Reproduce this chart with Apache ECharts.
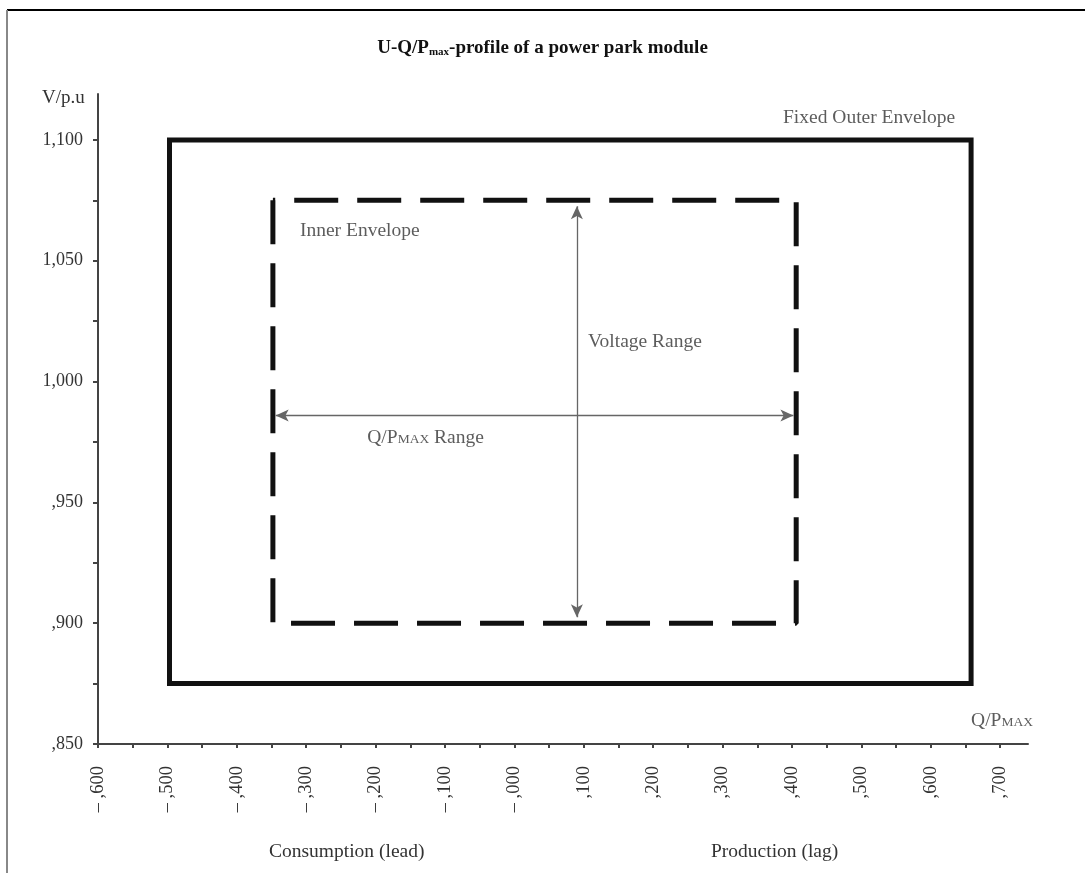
<!DOCTYPE html>
<html>
<head>
<meta charset="utf-8">
<script src="https://cdn.jsdelivr.net/npm/echarts@6/dist/echarts.min.js"></script>
<style>
html,body{margin:0;padding:0;background:#fff;}
#chart{width:1085px;height:873px;}
</style>
</head>
<body>
<div id="chart"></div>
<script>
// ---- data ----
var outerEnvelope = [[-0.497, 0.875], [-0.497, 1.1], [0.658, 1.1], [0.658, 0.875], [-0.497, 0.875]];
var innerEnvelope = [[-0.348, 1.075], [-0.348, 0.9], [0.406, 0.9], [0.406, 1.075], [-0.348, 1.075]];
var voltageArrow = [[0.09, 0.9025], [0.09, 1.0725]];
var qRangeArrow = [[-0.344, 0.986], [0.402, 0.986]];
var annotations = [
  {text: 'Fixed Outer Envelope', coord: [0.387, 1.109]},
  {text: 'Inner Envelope', coord: [-0.309, 1.0625]},
  {text: 'Voltage Range', coord: [0.106, 1.0165]},
  {text: '{n|Q/P}{s|MAX}{n| Range}', coord: [-0.212, 0.9765]},
  {text: '{n|Q/P}{s|MAX}', coord: [0.658, 0.8595]}
];
var xTickValues = [-0.6,-0.5,-0.4,-0.3,-0.2,-0.1,0,0.1,0.2,0.3,0.4,0.5,0.6,0.7];
var xTickLabels = ['– ,600','– ,500','– ,400','– ,300','– ,200','– ,100','– ,000',',100',',200',',300',',400',',500',',600',',700'];
var xMinorTicks = [-0.6,-0.55,-0.5,-0.45,-0.4,-0.35,-0.3,-0.25,-0.2,-0.15,-0.1,-0.05,0,0.05,0.1,0.15,0.2,0.25,0.3,0.35,0.4,0.45,0.5,0.55,0.6,0.65,0.7];
var yTickValues = [0.85, 0.9, 0.95, 1.0, 1.05, 1.1];
var yTickLabels = [',850', ',900', ',950', '1,000', '1,050', '1,100'];
var yMinorTicks = [0.85,0.875,0.9,0.925,0.95,0.975,1.0,1.025,1.05,1.075,1.1];

function lookup(vals, labels, v) {
  for (var i = 0; i < vals.length; i++) if (Math.abs(vals[i] - v) < 1e-6) return labels[i];
  return '';
}

var FONT = '"Liberation Serif", "DejaVu Serif", serif';
var TXT = '#333';
var chart = echarts.init(document.getElementById('chart'), null, {renderer: 'canvas'});
var option = {
  animation: false,
  backgroundColor: '#fff',
  textStyle: {fontFamily: FONT},
  title: {
    text: '{b|U-Q/P}{bs|max}{b|-profile of a power park module}',
    left: 'center', top: 31,
    textStyle: {
      rich: {
        b: {fontFamily: FONT, fontWeight: 'bold', fontSize: 19, color: '#111', lineHeight: 24},
        bs: {fontFamily: FONT, fontWeight: 'bold', fontSize: 11, color: '#111', lineHeight: 24, padding: [9, 0, 0, 0]}
      }
    }
  },
  grid: {left: 98, top: 94, width: 930, height: 650, containLabel: false},
  xAxis: {
    type: 'value', min: -0.6, max: 0.74, interval: 0.1,
    splitLine: {show: false},
    axisLine: {onZero: false, lineStyle: {color: '#444', width: 2}},
    axisTick: {show: true, length: 4, inside: false, lineStyle: {color: '#444', width: 2}, customValues: xMinorTicks},
    axisLabel: {
      customValues: xTickValues, rotate: 90, margin: 22,
      fontFamily: FONT, fontSize: 18.5, color: TXT,
      formatter: function (v) { return lookup(xTickValues, xTickLabels, v); }
    }
  },
  yAxis: {
    type: 'value', min: 0.85, max: 1.119, interval: 0.05,
    splitLine: {show: false},
    axisLine: {show: true, onZero: false, lineStyle: {color: '#444', width: 2}},
    axisTick: {show: true, length: 5, lineStyle: {color: '#444', width: 2}, customValues: yMinorTicks},
    axisLabel: {
      customValues: yTickValues, margin: 15,
      fontFamily: FONT, fontSize: 18, color: TXT,
      formatter: function (v) { return lookup(yTickValues, yTickLabels, v); }
    }
  },
  series: [
    {
      type: 'line', data: outerEnvelope, symbol: 'none', silent: true,
      lineStyle: {color: '#111', width: 5, join: 'miter', cap: 'square'}
    },
    {
      type: 'line', data: innerEnvelope, symbol: 'none', silent: true,
      lineStyle: {color: '#111', width: 5, type: [44, 19], cap: 'butt'}
    },
    {
      type: 'line', data: [], symbol: 'none', silent: true,
      markLine: {
        silent: true, symbol: ['arrow', 'arrow'], symbolSize: [9, 13],
        label: {show: false},
        lineStyle: {color: '#666', width: 1.3, type: 'solid'},
        data: [
          [{coord: voltageArrow[0]}, {coord: voltageArrow[1]}],
          [{coord: qRangeArrow[0]}, {coord: qRangeArrow[1]}]
        ]
      }
    },
    {
      type: 'scatter', symbolSize: 0, silent: true,
      data: annotations.map(function (a) { return {value: a.coord, name: a.text}; }),
      label: {
        show: true, position: 'right', distance: 0,
        formatter: function (p) { return p.name; },
        fontFamily: FONT, fontSize: 19.5, color: TXT,
        rich: {
          n: {fontFamily: FONT, fontSize: 19.5, color: TXT},
          s: {fontFamily: FONT, fontSize: 13.5, color: TXT, padding: [3, 0, 0, 0]}
        }
      }
    }
  ],
  graphic: [
    {type: 'line', shape: {x1: 7, y1: 10, x2: 1085, y2: 10}, style: {stroke: '#000', lineWidth: 2}},
    {type: 'line', shape: {x1: 7, y1: 10, x2: 7, y2: 873}, style: {stroke: '#888', lineWidth: 2}},
    {type: 'text', left: 42, top: 89, style: {text: 'V/p.u', font: '19px ' + FONT, fill: TXT}},
    {type: 'text', left: 269, top: 842, style: {text: 'Consumption (lead)', font: '19.5px ' + FONT, fill: TXT}},
    {type: 'text', left: 711, top: 842, style: {text: 'Production (lag)', font: '19.5px ' + FONT, fill: TXT}}
  ]
};
chart.setOption(option);
</script>
</body>
</html>
